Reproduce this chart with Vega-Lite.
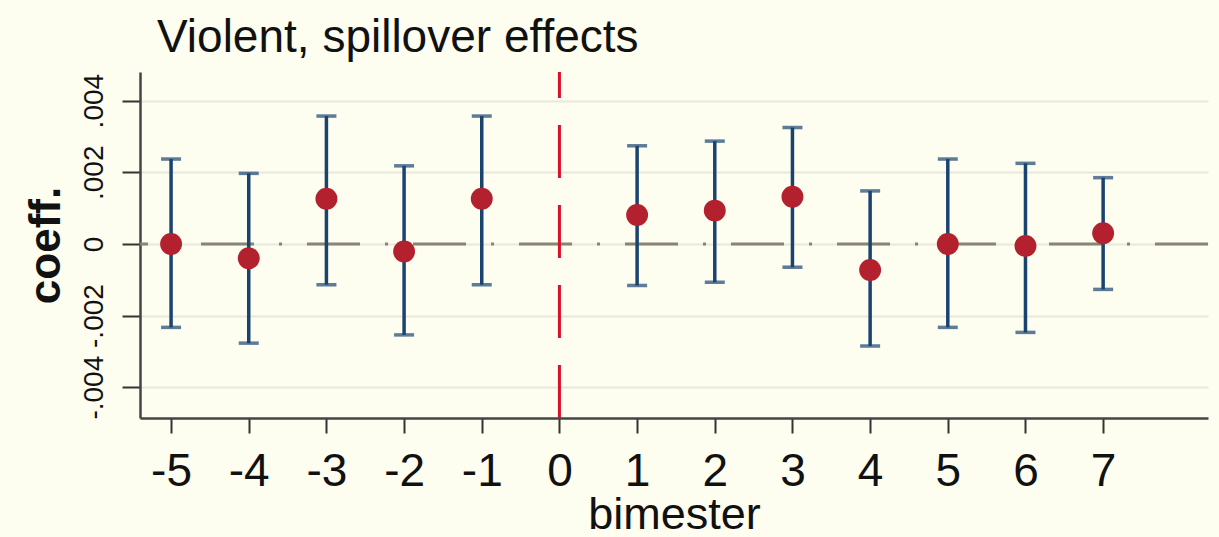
{
  "$schema": "https://vega.github.io/schema/vega-lite/v6.json",
  "autosize": {"type": "none"},
  "width": 1068,
  "height": 346,
  "padding": {"left": 140, "top": 72, "right": 11, "bottom": 119},
  "background": "#fdfdf0",
  "title": {
    "text": "Violent, spillover effects",
    "anchor": "start",
    "frame": "group",
    "font": "Liberation Sans",
    "fontSize": 46,
    "fontWeight": "normal",
    "color": "#111111",
    "dx": 17,
    "baseline": "bottom",
    "offset": -37
  },
  "config": {
    "view": {"stroke": null},
    "axis": {"labelFont": "Liberation Sans", "titleFont": "Liberation Sans", "labelColor": "#111111", "titleColor": "#111111"}
  },
  "data": {
    "values": [
      {"bimester": -5, "coef": 0.0, "lo": -0.00233, "hi": 0.00237},
      {"bimester": -4, "coef": -0.0004, "lo": -0.00277, "hi": 0.00197},
      {"bimester": -3, "coef": 0.00126, "lo": -0.00114, "hi": 0.00357},
      {"bimester": -2, "coef": -0.00021, "lo": -0.00254, "hi": 0.00218},
      {"bimester": -1, "coef": 0.00126, "lo": -0.00114, "hi": 0.00357},
      {"bimester": 1, "coef": 0.00081, "lo": -0.00116, "hi": 0.00274},
      {"bimester": 2, "coef": 0.00093, "lo": -0.00107, "hi": 0.00287},
      {"bimester": 3, "coef": 0.00132, "lo": -0.00065, "hi": 0.00325},
      {"bimester": 4, "coef": -0.00073, "lo": -0.00285, "hi": 0.00148},
      {"bimester": 5, "coef": 0.0, "lo": -0.00233, "hi": 0.00237},
      {"bimester": 6, "coef": -0.00006, "lo": -0.00247, "hi": 0.00225},
      {"bimester": 7, "coef": 0.0003, "lo": -0.00127, "hi": 0.00185}
    ]
  },
  "encoding": {
    "x": {
      "field": "bimester",
      "type": "quantitative",
      "scale": {"domain": [-5.4, 8.35], "nice": false, "zero": false},
      "axis": {
        "values": [-5, -4, -3, -2, -1, 0, 1, 2, 3, 4, 5, 6, 7],
        "labelExpr": "'' + datum.value",
        "title": "bimester",
        "grid": false,
        "domainColor": "#444444",
        "domainWidth": 2.5,
        "tickColor": "#333333",
        "tickWidth": 2,
        "tickSize": 15,
        "labelFontSize": 46,
        "labelPadding": 16,
        "labelFlush": false,
        "titleFontSize": 45,
        "titleFontWeight": "normal",
        "titlePadding": -2
      }
    }
  },
  "layer": [
    {
      "mark": {"type": "rule", "color": "#8a8474", "strokeWidth": 3, "strokeDash": [53, 25, 3, 25]},
      "data": {"values": [{"zero": 0}]},
      "encoding": {
        "x": null,
        "y": {"field": "zero", "type": "quantitative"}
      }
    },
    {
      "mark": {"type": "rule", "color": "#d8102a", "strokeWidth": 3, "strokeDash": [53, 27]},
      "data": {"values": [{"bimester": 0, "bottom": -0.00486, "top": 0.0048}]},
      "encoding": {
        "y": {"field": "bottom", "type": "quantitative"},
        "y2": {"field": "top"}
      }
    },
    {
      "mark": {
        "type": "errorbar",
        "ticks": {"size": 20, "thickness": 3.5, "color": "#1a4470"},
        "rule": {"strokeWidth": 3.5, "color": "#1a4470"}
      },
      "encoding": {
        "y": {
          "field": "lo",
          "type": "quantitative",
          "scale": {"domain": [-0.00486, 0.0048], "nice": false, "zero": false},
          "axis": {
            "values": [-0.004, -0.002, 0, 0.002, 0.004],
            "labelExpr": "datum.value == 0 ? '0' : (datum.value < 0 ? '-' : '') + replace(format(abs(datum.value), '.3f'), '0.', '.')",
            "title": "coeff.",
            "grid": true,
            "gridColor": "#e8e8dc",
            "gridWidth": 2,
            "domainColor": "#444444",
            "domainWidth": 2.5,
            "tickColor": "#333333",
            "tickWidth": 2,
            "tickSize": 18,
            "labelFontSize": 28,
            "labelAngle": -90,
            "labelAlign": "center",
            "labelBaseline": "bottom",
            "labelPadding": 14,
            "labelFlush": false,
            "titleFontSize": 44,
            "titleFontWeight": "bold",
            "titlePadding": 12
          }
        },
        "y2": {"field": "hi"}
      }
    },
    {
      "mark": {"type": "circle", "size": 480, "color": "#b3202e", "opacity": 1},
      "encoding": {
        "y": {"field": "coef", "type": "quantitative"}
      }
    }
  ]
}
